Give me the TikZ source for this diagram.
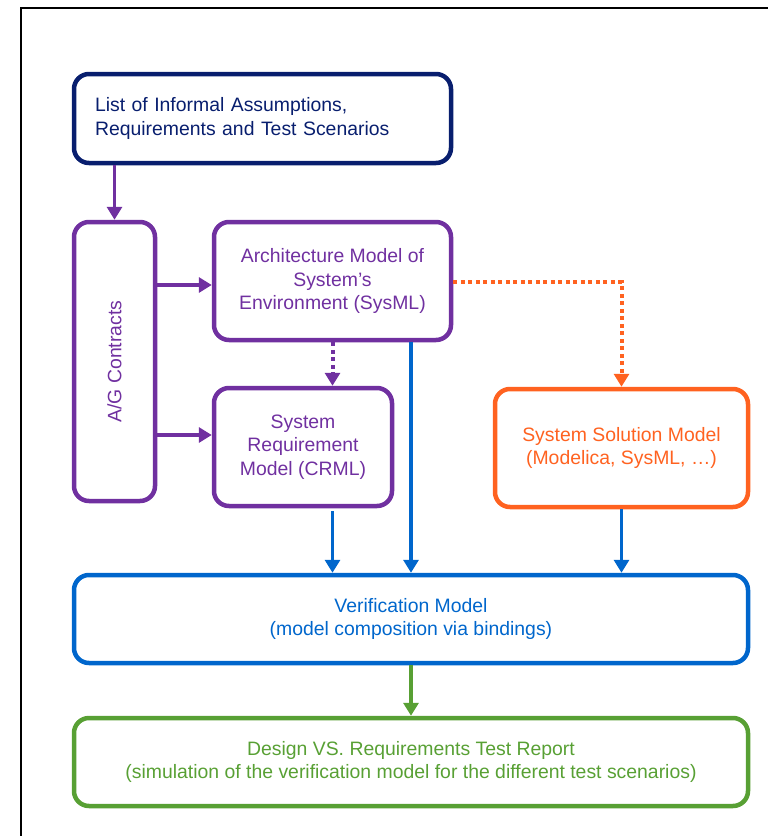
\documentclass[tikz,border=0pt]{standalone}
\usepackage{fontspec}
\setmainfont{Liberation Sans}
\usepackage{graphicx}
\usetikzlibrary{arrows.meta}
\definecolor{navy}{RGB}{8,30,110}
\definecolor{purp}{RGB}{112,48,160}
\definecolor{orng}{RGB}{255,98,32}
\definecolor{blu}{RGB}{0,102,204}
\definecolor{grn}{RGB}{88,160,52}
\tikzset{
  box/.style={draw, line width=4.5pt, rounded corners=15pt, align=center,
    font=\fontsize{19.4}{23.5}\selectfont, inner sep=0pt},
  arr/.style={line width=3.5pt, -{Triangle[width=15pt,length=13pt]}},
  dotarr/.style={arr, line width=4pt, dash pattern=on 4pt off 3.5pt},
}
\begin{document}
\begin{tikzpicture}[x=1pt,y=-1pt]
\useasboundingbox (0,0) rectangle (768,836);
\draw[line width=2pt] (21,836) -- (21,8) -- (768,8);

\node[box, navy, minimum width=377pt, minimum height=89pt, text width=335pt, align=left]
  (top) at (262.5,118.5) {\raisebox{-3pt}{\parbox{335pt}{List of Informal Assumptions,\\Requirements and Test Scenarios}}};
\node[box, purp, minimum width=81pt, minimum height=279pt]
  (ag) at (114.5,361.5) {\rotatebox{90}{A/G Contracts}};
\node[box, purp, minimum width=237pt, minimum height=118pt]
  (arch) at (332.5,281) {Architecture Model of\\System's\\Environment (SysML)};
\node[box, purp, minimum width=178pt, minimum height=118pt]
  (req) at (303,447) {System\\Requirement\\Model (CRML)};
\node[box, orng, minimum width=253pt, minimum height=118pt]
  (sol) at (621.5,448) {System Solution Model\\(Modelica, SysML, \dots)};
\node[box, blu, minimum width=674pt, minimum height=88pt]
  (ver) at (411,619) {Verification Model\\(model composition via bindings)};
\node[box, grn, minimum width=674pt, minimum height=88pt]
  (des) at (411,762) {Design VS. Requirements Test Report\\(simulation of the verification model for the different test scenarios)};

\draw[arr, purp] (top.south -| ag.north) -- (ag.north);
\draw[arr, purp] (ag.east |- {(0,285)}) -- (arch.west |- {(0,285)});
\draw[arr, purp] (ag.east |- {(0,435)}) -- (req.west |- {(0,435)});
\draw[dotarr, purp] (arch.south) -- (arch.south |- req.north);
\draw[dotarr, orng] (arch.east |- {(0,282)}) -| (sol.north);
\draw[arr, blu] (arch.south -| ver.north) -- (ver.north);
\draw[arr, blu] ([yshift=-3pt]req.south -| arch.south) -- (ver.north -| arch.south);
\draw[arr, blu] (sol.south) -- (sol.south |- ver.north);
\draw[arr, grn] (ver.south) -- (des.north);
\end{tikzpicture}
\end{document}
